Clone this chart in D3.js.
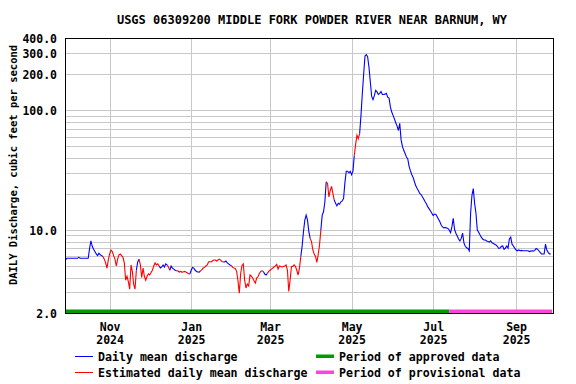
<!DOCTYPE html>
<html><head><meta charset="utf-8">
<script src="https://cdn.jsdelivr.net/npm/d3@7"></script>
<style>
body{margin:0;background:#fff;}
svg text{font-family:"DejaVu Sans Mono",monospace;font-weight:bold;fill:#000;}
</style></head><body>
<svg id="chart" width="576" height="384"></svg>
<script>
// ---------- data ----------
const chartTitle = "USGS 06309200 MIDDLE FORK POWDER RIVER NEAR BARNUM, WY";
const yAxisTitle = "DAILY Discharge, cubic feet per second";
const startDate = "2024-09-29"; // first daily value
const dischargeValues = [
  5.6,5.8,5.8,5.8,5.8,5.8,5.8,5.8,5.8,5.8, 5.9,5.8,5.8,5.8,5.8,5.8,5.8,5.8,7.0,8.1,
  7.3,6.9,6.6,6.3,6.1,6.4,6.2,6.1,6.0,5.7, 5.3,4.8,5.6,6.3,6.8,6.6,6.1,5.7,5.0,5.7,
  6.2,6.3,6.1,5.9,5.3,3.8,4.1,3.7,3.2,5.1, 4.5,3.5,3.2,4.6,5.4,5.7,5.1,4.0,4.8,4.1,
  3.8,4.1,4.3,4.2,4.4,4.6,5.0,5.3,5.1,5.2, 5.0,4.8,4.9,5.1,4.9,5.2,5.1,4.9,4.6,5.0,
  4.8,4.7,4.6,4.55,4.55,4.45,4.5,4.44,4.45,4.5, 4.44,4.38,4.3,4.28,4.6,4.86,4.8,4.6,4.5,4.45,
  4.44,4.55,4.65,4.8,4.86,5.0,5.1,5.4,5.45,5.4, 5.52,5.6,5.6,5.5,5.6,5.7,5.6,5.45,5.4,5.4,
  5.5,5.3,5.2,5.1,5.05,4.86,4.8,4.77,4.5,3.76, 2.96,4.3,5.05,5.2,3.8,3.27,3.53,3.4,4.2,4.1,
  3.96,3.76,3.6,3.96,4.08,4.33,4.5,4.55,4.5,4.28, 4.2,4.33,4.5,4.6,4.7,4.8,4.9,5.0,5.15,4.7,
  5.0,4.95,4.9,4.95,5.0,5.1,4.6,3.06,3.8,4.95, 4.95,5.1,4.95,4.6,4.2,4.8,6.0,7.35,9.7,12.1,
  13.3,12.1,9.7,8.5,8.0,6.8,6.3,6.0,5.35,6.2, 7.5,10,13.3,14.2,17.2,25.3,24.5,18.9,21.3,23.2,
  20.2,17.8,16.7,15.9,16.7,16.4,17.2,17.5,18.4,25, 31,31,30,31,29,31,42,52,62,58,
  64,91,138,201,286,293,281,229,173,131, 123,133,147,143,136,139,144,136,136,137,
  139,129,127,107,97,91,85,79,74,68, 78,57,50,46.4,43.6,40.8,39.3,34.1,31.2,29.1,
  27.5,25.3,23.4,22.2,21.3,20.2,19.8,18.9,18.1,17.2, 16.5,15.6,15.0,14.4,13.8,13.2,13.6,13.5,12.9,12.3,
  11.7,11.0,10.6,10.4,10.5,10.4,10.3,10.0,9.5,10.6, 12.5,10.1,9.4,8.9,8.4,8.1,8.5,9.4,7.8,7.3,
  7.1,7.0,6.7,13.8,19.5,22.2,16.7,13.8,10.0,9.56, 9.1,8.7,8.4,8.25,8.25,8.1,8.0,7.9,8.1,7.8,
  7.7,7.6,7.5,7.3,7.0,7.05,7.3,7.35,6.9,7.05, 7.35,7.05,8.4,8.7,7.6,7.35,7.05,6.8,6.7,6.8,
  6.7,6.75,6.7,6.7,6.7,6.7,6.7,6.6,6.65,6.7, 6.65,6.75,7.0,6.9,6.7,6.5,6.3,6.3,6.3,7.6,
  6.8,6.5,6.3,6.3
];
const estimatedPeriods = [
  ["2024-10-28","2024-11-21"], ["2024-11-24","2024-12-08"], ["2024-12-15","2024-12-16"],
  ["2024-12-22","2024-12-31"], ["2025-01-09","2025-01-25"], ["2025-02-01","2025-02-24"],
  ["2025-02-28","2025-03-24"], ["2025-04-01","2025-04-08"], ["2025-04-13","2025-04-18"],
  ["2025-05-04","2025-05-07"]
];
const approvedPeriod = ["2024-09-29","2025-07-13"];
const provisionalPeriod = ["2025-07-13","2025-09-28"];
const xDomain = ["2024-09-29","2025-09-29"];
const xTickDates = ["2024-11-01","2025-01-01","2025-03-01","2025-05-01","2025-07-01","2025-09-01"];
const xTickMonths = ["Nov","Jan","Mar","May","Jul","Sep"];
const xTickYears = ["2024","2025","2025","2025","2025","2025"];
const yDomain = [2, 400];
const yTickValues = [2,10,100,200,300,400];
const yTickLabels = ["2.0","10.0","100.0","200.0","300.0","400.0"];
const yGridValues = [3,4,5,6,7,8,9,10,20,30,40,50,60,70,80,90,100,200,300];
const legendLabels = ["Daily mean discharge","Estimated daily mean discharge","Period of approved data","Period of provisional data"];
const colors = {daily:"#0000ff", est:"#ff0000", approved:"#009a00", provisional:"#ff44dd", grid:"#c8c8c8"};

// ---------- drawing ----------
const parse = d3.utcParse("%Y-%m-%d");
const svg = d3.select("#chart");
const L = 65.5, R = 553.5, T = 38.5, B = 313.5;
const x = d3.scaleUtc().domain(xDomain.map(parse)).range([L, R]);
const y = d3.scaleLog().domain(yDomain).range([B, T]);

const start = parse(startDate);
const estRanges = estimatedPeriods.map(p => [parse(p[0]), parse(p[1])]);
const points = dischargeValues.map((v, i) => {
  const date = d3.utcDay.offset(start, i);
  const est = estRanges.some(r => date >= r[0] && date <= r[1]);
  return {date, v, est};
});

// grid
const g = svg.append("g");
g.append("g").attr("transform", `translate(0,0)`)
  .call(d3.axisLeft(y).tickValues(yGridValues).tickSize(-(R - L)).tickFormat(""))
  .attr("transform", `translate(${L},0)`)
  .call(a => { a.select(".domain").remove(); a.selectAll("line").attr("stroke", colors.grid).attr("shape-rendering","crispEdges"); });
g.append("g").attr("transform", `translate(0,${B})`)
  .call(d3.axisBottom(x).tickValues(xTickDates.map(parse)).tickSize(-(B - T)).tickFormat(""))
  .call(a => { a.select(".domain").remove(); a.selectAll("line").attr("stroke", colors.grid).attr("shape-rendering","crispEdges"); });

// period bars
svg.append("rect").attr("x", x(parse(approvedPeriod[0]))).attr("y", B - 4)
  .attr("width", x(parse(approvedPeriod[1])) - x(parse(approvedPeriod[0]))).attr("height", 3.5).attr("fill", colors.approved);
svg.append("rect").attr("x", x(parse(provisionalPeriod[0]))).attr("y", B - 4)
  .attr("width", x(parse(provisionalPeriod[1])) - x(parse(provisionalPeriod[0]))).attr("height", 3.5).attr("fill", colors.provisional);

// line segments split by estimated flag
const line = d3.line().x(d => x(d.date)).y(d => y(d.v));
const runs = [];
for (let i = 1; i < points.length; i++) {
  const c = points[i].est ? "est" : "daily";
  const last = runs[runs.length - 1];
  if (last && last.c === c) last.pts.push(points[i]);
  else runs.push({c, pts: [points[i - 1], points[i]]});
}
svg.append("g").selectAll("path").data(runs).join("path")
  .attr("d", r => line(r.pts)).attr("fill", "none")
  .attr("stroke", r => colors[r.c]).attr("stroke-width", 1.1);

// frame
svg.append("rect").attr("x", L).attr("y", T).attr("width", R - L).attr("height", B - T)
  .attr("fill", "none").attr("stroke", "#000").attr("stroke-width", 1).attr("shape-rendering","crispEdges");

// y tick labels
const yAx = svg.append("g").attr("transform", `translate(${L},0)`)
  .call(d3.axisLeft(y).tickValues(yTickValues).tickSize(0).tickPadding(8).tickFormat((d, i) => yTickLabels[i]));
yAx.select(".domain").remove();
yAx.selectAll("text").attr("font-size", "11.5px").attr("dy", "0.36em").attr("font-family", null).attr("x", 57 - L);

// x tick labels
const xAx = svg.append("g").attr("transform", `translate(0,${B})`)
  .call(d3.axisBottom(x).tickValues(xTickDates.map(parse)).tickSize(0).tickFormat(""));
xAx.select(".domain").remove();
xAx.selectAll(".tick").each(function(d, i) {
  const t = d3.select(this);
  t.append("text").attr("y", 17).attr("text-anchor", "middle").attr("font-size", "11.5px").text(xTickMonths[i]);
  t.append("text").attr("y", 30.5).attr("text-anchor", "middle").attr("font-size", "11.5px").text(xTickYears[i]);
});

// title
svg.append("text").attr("x", 312).attr("y", 24).attr("text-anchor", "middle").attr("font-size", "12px").text(chartTitle);
// y title
svg.append("text").attr("transform", "translate(17,165) rotate(-90)").attr("text-anchor", "middle")
  .attr("font-size", "10.5px").text(yAxisTitle);

// legend
const leg = svg.append("g");
const legItems = [
  {lx: 75, ly: 356.5, type: "line", c: colors.daily, t: legendLabels[0]},
  {lx: 75, ly: 372.5, type: "line", c: colors.est, t: legendLabels[1]},
  {lx: 316, ly: 356.5, type: "bar", c: colors.approved, t: legendLabels[2]},
  {lx: 316, ly: 372.5, type: "bar", c: colors.provisional, t: legendLabels[3]}
];
legItems.forEach(it => {
  if (it.type === "line") {
    leg.append("line").attr("x1", it.lx).attr("x2", it.lx + 18).attr("y1", it.ly).attr("y2", it.ly)
      .attr("stroke", it.c).attr("stroke-width", 1);
    leg.append("text").attr("x", it.lx + 23).attr("y", it.ly + 4).attr("font-size", "11.6px").text(it.t);
  } else {
    leg.append("rect").attr("x", it.lx).attr("y", it.ly - 2).attr("width", 18).attr("height", 3.5).attr("fill", it.c);
    leg.append("text").attr("x", it.lx + 23).attr("y", it.ly + 4).attr("font-size", "11.6px").text(it.t);
  }
});
</script>
</body></html>
